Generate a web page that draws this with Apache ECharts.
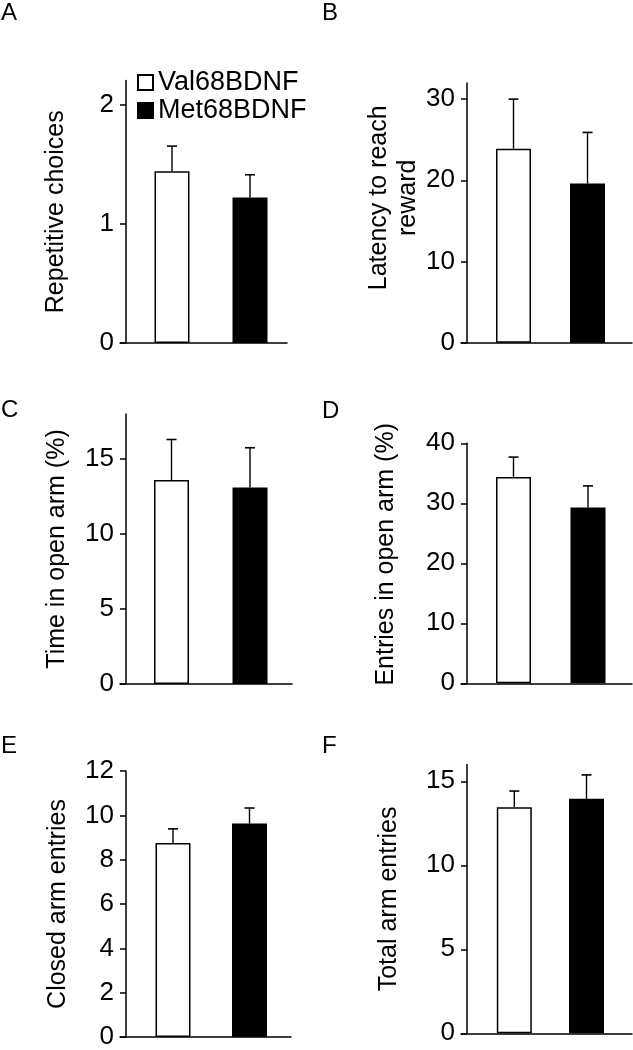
<!DOCTYPE html>
<html>
<head>
<meta charset="utf-8">
<script src="https://cdn.jsdelivr.net/npm/echarts@6/dist/echarts.min.js"></script>
<style>html,body{margin:0;padding:0;background:#fff}#c{width:633px;height:1050px}</style>
</head>
<body>
<div id="c"></div>
<script>
// ---- data ----
const groups = ['Val68BDNF', 'Met68BDNF'];
const panelLetters = ['A', 'B', 'C', 'D', 'E', 'F'];
const yNames = ['Repetitive choices', 'Latency to reach\nreward', 'Time in open arm (%)', 'Entries in open arm (%)', 'Closed arm entries', 'Total arm entries'];
const valMeans = [1.44, 23.9, 13.6, 34.4, 8.75, 13.45];
const valErrs  = [0.21, 6.1, 2.7, 3.3, 0.64, 0.97];
const metMeans = [1.22, 19.6, 13.1, 29.3, 9.63, 13.96];
const metErrs  = [0.19, 6.3, 2.65, 3.6, 0.70, 1.42];
const yMax = [2.2, 32, 18, 40, 12, 16];
const yTicks = [[0, 1, 2], [0, 10, 20, 30], [0, 5, 10, 15], [0, 10, 20, 30, 40], [0, 2, 4, 6, 8, 10, 12], [0, 5, 10, 15]];
const barPos = [1, 2];

// ---- layout (pixels) ----
const FONT = 'Liberation Sans, Arial, Helvetica, sans-serif';
const layout = [
  {axisX: 126, end: 287, c1: 172, c2: 250, zero: 343, top: 80.5, gap: 55, pad: [0,0,0,0], lx: 1, ly: 1},
  {axisX: 467, end: 632, c1: 513.5, c2: 587.5, zero: 342.7, top: 82.9, gap: 43, pad: [0,0,0,30], lx: 322, ly: 1},
  {axisX: 126, end: 292, c1: 171.5, c2: 250, zero: 684, top: 414, gap: 54, pad: [0,0,0,0], lx: 1, ly: 398},
  {axisX: 467, end: 632, c1: 513.5, c2: 588, zero: 683.3, top: 443.3, gap: 66, pad: [0,0,0,18], lx: 322, ly: 399},
  {axisX: 126, end: 291, c1: 173, c2: 249.5, zero: 1039.3, top: 771, gap: 53, pad: [0,0,0,0], lx: 1, ly: 734},
  {axisX: 467, end: 632, c1: 514.3, c2: 586.5, zero: 1033.3, top: 764.5, gap: 63, pad: [0,0,0,0], lx: 322, ly: 734}
];
const TICK = 6;

const grids = [], xAxes = [], yAxes = [], series = [], titles = [];
layout.forEach((L, i) => {
  const start = L.axisX - TICK;
  const s = L.c2 - L.c1;
  grids.push({left: start, top: L.top, width: L.end - start, height: L.zero - L.top, containLabel: false});
  xAxes.push({
    type: 'value', gridIndex: i,
    min: barPos[0] - (L.c1 - start) / s,
    max: barPos[1] + (L.end - L.c2) / s,
    axisLine: {show: true, onZero: false, lineStyle: {color: '#000', width: 1.5}},
    axisTick: {show: false}, axisLabel: {show: false}, splitLine: {show: false}
  });
  yAxes.push({
    type: 'value', gridIndex: i, min: 0, max: yMax[i], offset: -TICK,
    name: yNames[i], nameLocation: 'middle', nameRotate: 90, nameGap: L.gap,
    nameTextStyle: {fontSize: 25, color: '#000', fontFamily: FONT, lineHeight: 29, padding: L.pad},
    axisLine: {show: true, lineStyle: {color: '#000', width: 1.5}},
    axisTick: {show: true, length: TICK, customValues: yTicks[i], lineStyle: {color: '#000', width: 1.5}},
    axisLabel: {show: true, customValues: yTicks[i], margin: 12, fontSize: 26, color: '#000', fontFamily: FONT},
    splitLine: {show: false}
  });
  series.push({
    name: groups[0], type: 'bar', xAxisIndex: i, yAxisIndex: i, barWidth: 35, barGap: '-100%',
    itemStyle: {color: '#fff', borderColor: '#000', borderWidth: 1.5},
    data: [[barPos[0], valMeans[i]]], silent: true
  });
  series.push({
    name: groups[1], type: 'bar', xAxisIndex: i, yAxisIndex: i, barWidth: 35, barGap: '-100%',
    itemStyle: {color: '#000', borderColor: '#000', borderWidth: 1.5},
    data: [[barPos[1], metMeans[i]]], silent: true
  });
  series.push({
    type: 'custom', xAxisIndex: i, yAxisIndex: i, z: 5, silent: true, clip: false,
    encode: {x: 0, y: 1},
    data: [[barPos[0], valMeans[i], valErrs[i]], [barPos[1], metMeans[i], metErrs[i]]],
    renderItem: function (params, api) {
      const x = api.value(0), m = api.value(1), e = api.value(2);
      const p0 = api.coord([x, m]), p1 = api.coord([x, m + e]);
      const hw = 5;
      return {type: 'group', children: [
        {type: 'line', shape: {x1: p0[0], y1: p0[1], x2: p1[0], y2: p1[1]}, style: {stroke: '#000', lineWidth: 1.4}},
        {type: 'line', shape: {x1: p1[0] - hw, y1: p1[1], x2: p1[0] + hw, y2: p1[1]}, style: {stroke: '#000', lineWidth: 1.6}}
      ]};
    }
  });
  titles.push({text: panelLetters[i], left: L.lx, top: L.ly, padding: 0,
    textStyle: {fontSize: 24, fontWeight: 'normal', color: '#000', fontFamily: FONT}});
});

const chart = echarts.init(document.getElementById('c'), null, {renderer: 'canvas'});
chart.setOption({
  animation: false,
  backgroundColor: '#fff',
  title: titles,
  legend: {
    data: groups, orient: 'vertical', left: 137, top: 69, padding: 0,
    itemWidth: 15, itemHeight: 15, itemGap: 1, icon: 'rect', selectedMode: false,
    textStyle: {fontSize: 27, color: '#000', fontFamily: FONT}
  },
  grid: grids, xAxis: xAxes, yAxis: yAxes, series: series
});
</script>
</body>
</html>
